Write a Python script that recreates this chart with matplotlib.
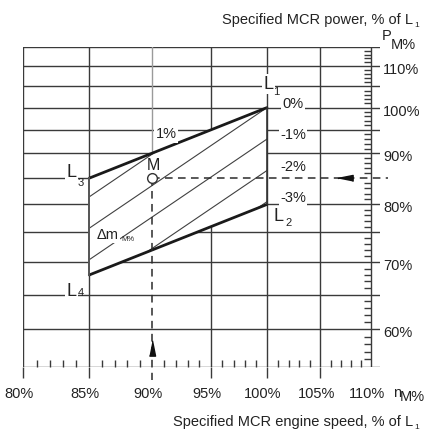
import numpy as np
import matplotlib.pyplot as plt
from matplotlib.patches import Polygon
from matplotlib.markers import TICKLEFT, TICKUP, TICKDOWN

plt.rcParams['font.family'] = ['Liberation Sans', 'DejaVu Sans']

# layout corners L1, L2, L4, L3 (speed and power in % of L1)
corner_names = ['1', '2', '4', '3']
corner_speed = [100, 100, 85, 85]
corner_power = [100, 80, 68, 85]

# specified MCR point M
m_speed = 90
m_power = 85

# constant SFOC lines: power where each line meets 100 % speed
sfoc_names = ['1%', '0%', '-1%', '-2%', '-3%']
sfoc_power_100 = [107.5, 100, 93, 86.5, 80.5]
sfoc_exp = 1.71

speed_ticks = [80, 85, 90, 95, 100, 105, 110]
power_ticks = [60, 70, 80, 90, 100, 110]
power_grid = [55, 60, 65, 70, 75, 80, 90, 95, 100, 105, 110, 115]
speed_grid = [80, 85, 95, 100, 105]
speed_minor = [s for s in range(81, 110) if s % 5]
power_minor = [p for p in range(56, 115) if p % 5]

xmin, xmax = 80, 110.9
ymin, ymax = 55, 115

ink = '#2b2b2b'
grid = '#3a3a3a'

fig = plt.figure(figsize=(4.26, 4.33), dpi=100)
ax = fig.add_axes([23 / 426, 66 / 433, 357 / 426, 320 / 433])
ax.set_xscale('log')
ax.set_yscale('log')
ax.set_xlim(xmin, xmax)
ax.set_ylim(ymin, ymax)
ax.axis('off')

# grid
for p in power_grid:
    ax.plot([xmin, xmax], [p, p], color=grid, lw=1.0, zorder=1)
ax.plot([xmin, 85], [85, 85], color=grid, lw=1.0, zorder=1)
for s in speed_grid:
    ax.plot([s, s], [ymin, ymax], color=grid, lw=1.0, zorder=1)
ax.plot([m_speed, m_speed], [m_power, ymax], color='#9a9a9a', lw=1.0, zorder=1)
ax.plot([110, 110], [ymin, ymax], color=grid, lw=1.0, zorder=1)

# tick marks
ax.plot(speed_grid, [ymin] * len(speed_grid), ls='none', marker=TICKDOWN,
        ms=8, mew=1.0, color=grid, clip_on=False)
ax.plot(speed_minor, [ymin] * len(speed_minor), ls='none', marker=TICKUP,
        ms=5, mew=1.0, color=grid)
ax.plot([110] * len(power_minor), power_minor, ls='none', marker=TICKLEFT,
        ms=5, mew=1.0, color=grid)

# layout area
area = Polygon(list(zip(corner_speed, corner_power)), closed=True,
               fc='white', ec='none', zorder=2)
ax.add_patch(area)

n = np.linspace(84, 101, 60)
for p100 in sfoc_power_100:
    line, = ax.plot(n, p100 * (n / 100) ** sfoc_exp, color='#404040', lw=0.8, zorder=3)
    line.set_clip_path(area)

# L3-L1 and L4-L2 boundaries
ax.plot([corner_speed[3], corner_speed[0]], [corner_power[3], corner_power[0]],
        color='#1a1a1a', lw=2.0, zorder=4, solid_capstyle='round')
ax.plot([corner_speed[2], corner_speed[1]], [corner_power[2], corner_power[1]],
        color='#1a1a1a', lw=2.0, zorder=4, solid_capstyle='round')
ax.plot([corner_speed[3], corner_speed[2]], [corner_power[3], corner_power[2]],
        color='#555555', lw=1.4, zorder=4)
ax.plot([corner_speed[0], corner_speed[1]], [corner_power[0], corner_power[1]],
        color='#333333', lw=1.2, zorder=4)

# dashed guides from M with arrows
dash = (0, (5, 3.5))
ax.plot([m_speed, 111.7], [m_power, m_power], ls=dash, color=ink, lw=1.1,
        zorder=4, clip_on=False)
ax.plot([m_speed, m_speed], [m_power, 53.4], ls=dash, color=ink, lw=1.1,
        zorder=4, clip_on=False)
ax.plot(107.4, m_power, ls='none', color='#111111', ms=11, zorder=5,
        marker=[(-1.5, 0), (1.5, 0.6), (1.5, -0.6)])
ax.plot(m_speed, 57.5, ls='none', color='#111111', ms=11, zorder=5,
        marker=[(0, 1.5), (0.6, -1.5), (-0.6, -1.5)])
ax.plot(m_speed, m_power, 'o', ms=7, mfc='white', mec='#333333', mew=1.0, zorder=6)

box = dict(fc='white', ec='none', pad=1.0)


def label(xy, text, dx, dy, size, with_box=True, **kw):
    ax.annotate(text, xy, xytext=(dx, dy), textcoords='offset pixels',
                ha='center', va='baseline', fontsize=size, color='#222222',
                bbox=box if with_box else None, zorder=7, **kw)


# corner labels
corner_offsets = [((1.5, 19), (9.5, 13)), ((12, -17), (21.5, -22)),
                  ((-17.5, -21), (-8, -21)), ((-17.5, 1), (-9, -8))]
for name, s, p, (main, sub) in zip(corner_names, corner_speed, corner_power, corner_offsets):
    label((s, p), 'L', main[0], main[1], 13)
    label((s, p), name, sub[0], sub[1], 8, with_box=False)

# SFOC labels
label((91.2, 93.2), sfoc_names[0], 0, 0, 10.5)
for name, p100 in zip(sfoc_names[1:], sfoc_power_100[1:]):
    label((100, p100), name, 26, 0, 10.5)

label((m_speed, m_power), 'M', 2, 8, 11.5, with_box=False)
label((corner_speed[2], corner_power[2]), 'Δm', 18.5, 36, 10.5)
label((corner_speed[2], corner_power[2]), 'M%', 38.5, 34, 5.5, with_box=False)

# tick labels
for s in speed_ticks:
    label((s, ymin), f'{s}%', -4, -31, 10.5, with_box=False, annotation_clip=False)
for p in power_ticks:
    ax.annotate(f'{p}%', (xmax, p), xytext=(3, -8), textcoords='offset pixels',
                ha='left', va='baseline', fontsize=10.5, color='#222222',
                annotation_clip=False)


def fig_text(x, y, text, size=10.5, ha='left'):
    fig.text(x / 426, 1 - y / 433, text, ha=ha, va='baseline', fontsize=size,
             color='#222222')


fig_text(413, 24, 'Specified MCR power, % of L', ha='right')
fig_text(414, 27, '1', size=6)
fig_text(382, 40, 'P')
fig_text(391, 49, 'M%')
fig_text(393, 397, 'n')
fig_text(400, 401, 'M%')
fig_text(413, 426, 'Specified MCR engine speed, % of L', ha='right')
fig_text(414, 429, '1', size=6)

fig.savefig('out.png', dpi=100)
